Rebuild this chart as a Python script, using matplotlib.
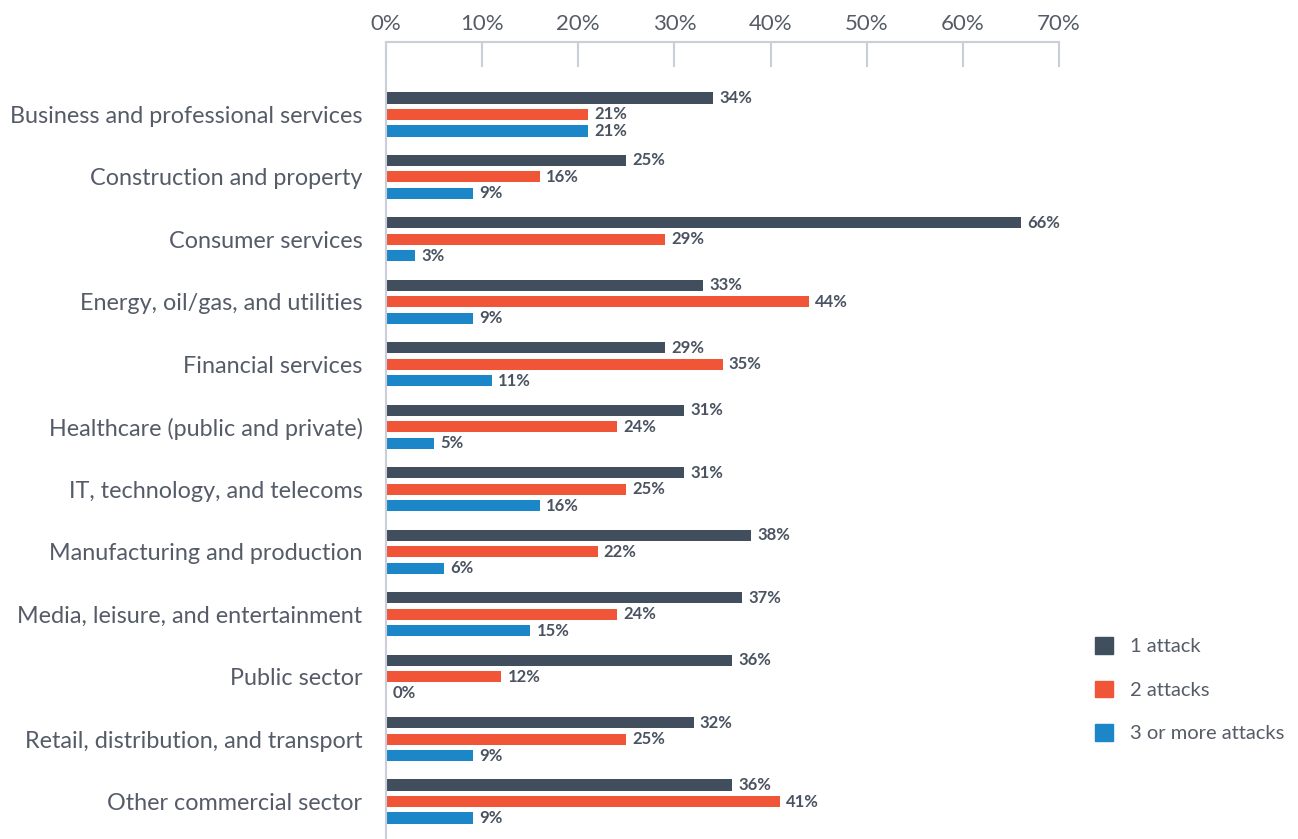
import matplotlib.pyplot as plt
import numpy as np
from matplotlib.patches import Patch

sectors = [
    "Business and professional services",
    "Construction and property",
    "Consumer services",
    "Energy, oil/gas, and utilities",
    "Financial services",
    "Healthcare (public and private)",
    "IT, technology, and telecoms",
    "Manufacturing and production",
    "Media, leisure, and entertainment",
    "Public sector",
    "Retail, distribution, and transport",
    "Other commercial sector",
]
one_attack = [34, 25, 66, 33, 29, 31, 31, 38, 37, 36, 32, 36]
two_attacks = [21, 16, 29, 44, 35, 24, 25, 22, 24, 12, 25, 41]
three_plus = [21, 9, 3, 9, 11, 5, 16, 6, 15, 0, 9, 9]
series_names = ["1 attack", "2 attacks", "3 or more attacks"]
x_ticks = [0, 10, 20, 30, 40, 50, 60, 70]

colors = ["#414e5d", "#f05537", "#1b87c9"]
grid_col = "#c9ced8"
text_col = "#555c68"
value_col = "#4a5361"

plt.rcParams['font.family'] = ['Lato', 'DejaVu Sans']

fig = plt.figure(figsize=(12.98, 8.39), dpi=100)
ax = fig.add_axes([386 / 1298, 0, (1059 - 386) / 1298, 1 - 42 / 839])

y = np.arange(len(sectors))
offset = 0.264
height = 0.178
for k, vals in enumerate([one_attack, two_attacks, three_plus]):
    pos = y + (k - 1) * offset
    ax.barh(pos, vals, height=height, color=colors[k], label=series_names[k])
    for p, v in zip(pos, vals):
        ax.text(v + 0.65, p, f"{v}%", va="center", ha="left",
                fontsize=12, fontweight="bold", color=value_col)

ax.set_xlim(0, 70)
ax.set_ylim(11.6, -1.16)

ax.xaxis.tick_top()
ax.set_xticks(x_ticks)
ax.set_xticklabels([f"{t}%" for t in x_ticks])
ax.tick_params(axis="x", direction="in", length=18, width=1.5, color=grid_col,
               labelsize=16, labelcolor=text_col, pad=6)

ax.set_yticks(y)
ax.set_yticklabels(sectors)
ax.tick_params(axis="y", length=0, labelsize=16.8, labelcolor=text_col, pad=17)

for side in ["right", "bottom"]:
    ax.spines[side].set_visible(False)
for side in ["top", "left"]:
    ax.spines[side].set_color(grid_col)
    ax.spines[side].set_linewidth(1.5)

handles = [Patch(color=c) for c in colors]
fig.legend(handles, series_names, loc="upper left",
           bbox_to_anchor=(1077 / 1298, 1 - 619 / 839), frameon=False,
           fontsize=14.5, labelcolor=text_col, handlelength=0.9, handleheight=0.9,
           handletextpad=0.85, labelspacing=1.25)

fig.savefig("out.png", dpi=100)
